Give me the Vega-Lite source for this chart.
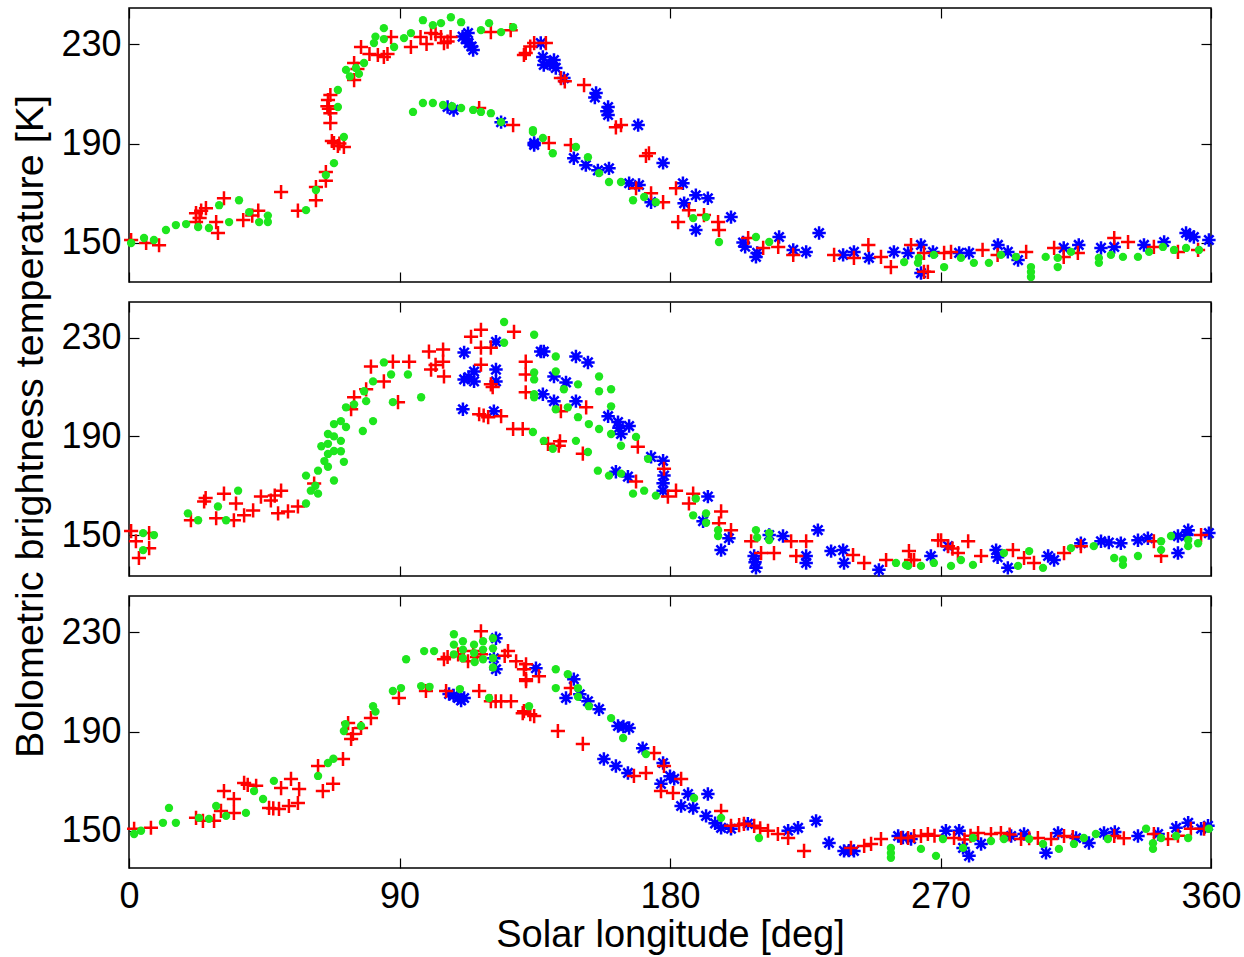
{
 "$schema": "https://vega.github.io/schema/vega-lite/v6.json",
 "background": "white",
 "padding": {"left": 10, "top": 6, "right": 0, "bottom": 2},
 "config": {
  "view": {"stroke": "black", "strokeWidth": 1.5},
  "font": "Liberation Sans",
  "axis": {"labelFont": "Liberation Sans", "labelFontSize": 36, "labelColor": "black", "titleFont": "Liberation Sans", "titleFontSize": 38, "titleFontWeight": "normal", "titleColor": "black", "tickColor": "black", "tickSize": -10, "tickWidth": 1.2, "domain": false, "grid": false, "labelFlush": false, "labelOverlap": false}
 },
 "spacing": 20,
 "bounds": "flush",
 "datasets": {
  "d": [
{"p":1,"s":"r","x":0.7,"y":151.2},{"p":1,"s":"r","x":5.7,"y":150},{"p":1,"s":"r","x":10,"y":149.1},{"p":1,"s":"r","x":22.3,"y":162},{"p":1,"s":"r","x":25.6,"y":164},{"p":1,"s":"r","x":22.3,"y":158.4},{"p":1,"s":"r","x":29,"y":158.4},{"p":1,"s":"r","x":29.6,"y":154},{"p":1,"s":"r","x":31.6,"y":168},{"p":1,"s":"r","x":38,"y":159.2},{"p":1,"s":"r","x":43,"y":163},{"p":1,"s":"r","x":41,"y":161},{"p":1,"s":"r","x":50.6,"y":170.5},{"p":1,"s":"r","x":56.2,"y":163},{"p":1,"s":"r","x":62.2,"y":172.5},{"p":1,"s":"r","x":62.2,"y":167.2},{"p":1,"s":"r","x":65.5,"y":178.5},{"p":1,"s":"r","x":65.5,"y":175},{"p":1,"s":"r","x":66.2,"y":207.5},{"p":1,"s":"r","x":67,"y":209.5},{"p":1,"s":"r","x":66,"y":205},{"p":1,"s":"r","x":67,"y":202.2},{"p":1,"s":"r","x":67,"y":198.2},{"p":1,"s":"r","x":68.2,"y":190.2},{"p":1,"s":"r","x":71.5,"y":188.6},{"p":1,"s":"r","x":69.5,"y":189},{"p":1,"s":"r","x":74.9,"y":222.4},{"p":1,"s":"r","x":74.9,"y":215.5},{"p":1,"s":"r","x":77.2,"y":228.8},{"p":1,"s":"r","x":80,"y":226},{"p":1,"s":"r","x":82.8,"y":225.6},{"p":1,"s":"r","x":84.8,"y":224.8},{"p":1,"s":"r","x":87.2,"y":232.8},{"p":1,"s":"r","x":93.8,"y":228.8},{"p":1,"s":"r","x":97,"y":232.8},{"p":1,"s":"r","x":100.5,"y":234.4},{"p":1,"s":"r","x":103.8,"y":232.8},{"p":1,"s":"r","x":104.8,"y":230.4},{"p":1,"s":"r","x":107,"y":232.8},{"p":1,"s":"r","x":120.4,"y":234.8},{"p":1,"s":"r","x":127,"y":235.6},{"p":1,"s":"r","x":116.5,"y":204.3},{"p":1,"s":"r","x":127.8,"y":197.4},{"p":1,"s":"r","x":131.4,"y":225.6},{"p":1,"s":"r","x":134.8,"y":230.4},{"p":1,"s":"r","x":132,"y":226.4},{"p":1,"s":"r","x":138.7,"y":230.4},{"p":1,"s":"r","x":143.7,"y":216.3},{"p":1,"s":"r","x":151.4,"y":213.5},{"p":1,"s":"r","x":163.7,"y":197.4},{"p":1,"s":"r","x":162,"y":196.5},{"p":1,"s":"r","x":173,"y":186.1},{"p":1,"s":"r","x":147,"y":189.4},{"p":1,"s":"r","x":139.7,"y":190.2},{"p":1,"s":"r","x":168.7,"y":172},{"p":1,"s":"r","x":173.7,"y":170},{"p":1,"s":"r","x":177.7,"y":166.4},{"p":1,"s":"r","x":182,"y":172},{"p":1,"s":"r","x":182.7,"y":158.4},{"p":1,"s":"r","x":186.3,"y":163.2},{"p":1,"s":"r","x":191.3,"y":161.2},{"p":1,"s":"r","x":196,"y":158.4},{"p":1,"s":"r","x":196.3,"y":155.2},{"p":1,"s":"r","x":206,"y":152},{"p":1,"s":"r","x":211,"y":148},{"p":1,"s":"r","x":216,"y":148.4},{"p":1,"s":"r","x":221,"y":145.2},{"p":1,"s":"r","x":234.6,"y":145.2},{"p":1,"s":"r","x":241.2,"y":144},{"p":1,"s":"r","x":246,"y":149.2},{"p":1,"s":"r","x":250.2,"y":144.4},{"p":1,"s":"r","x":253.5,"y":140.3},{"p":1,"s":"r","x":260.2,"y":149.2},{"p":1,"s":"r","x":264.5,"y":138.4},{"p":1,"s":"r","x":264.5,"y":146},{"p":1,"s":"r","x":265.8,"y":138.4},{"p":1,"s":"r","x":271.2,"y":146},{"p":1,"s":"r","x":273.5,"y":146.4},{"p":1,"s":"r","x":284,"y":147.2},{"p":1,"s":"r","x":289,"y":145.2},{"p":1,"s":"r","x":298.5,"y":146.4},{"p":1,"s":"r","x":307.8,"y":148},{"p":1,"s":"r","x":311,"y":144.4},{"p":1,"s":"r","x":315.7,"y":146},{"p":1,"s":"r","x":327.8,"y":152},{"p":1,"s":"r","x":332.4,"y":150.4},{"p":1,"s":"r","x":341,"y":148.4},{"p":1,"s":"r","x":349,"y":146.4},{"p":1,"s":"r","x":355.7,"y":147.2},
{"p":1,"s":"r","x":23.5,"y":160},{"p":1,"s":"r","x":24,"y":163},{"p":1,"s":"r","x":66.5,"y":204},{"p":1,"s":"r","x":67.5,"y":191},{"p":1,"s":"r","x":70,"y":190},{"p":1,"s":"r","x":76,"y":220},{"p":1,"s":"r","x":86,"y":226},{"p":1,"s":"r","x":99,"y":230},{"p":1,"s":"r","x":102,"y":234},{"p":1,"s":"r","x":106,"y":231},{"p":1,"s":"r","x":133.5,"y":229},{"p":1,"s":"r","x":145,"y":215},{"p":1,"s":"r","x":172,"y":185},
{"p":1,"s":"b","x":112.8,"y":234.4},{"p":1,"s":"b","x":113,"y":230.4},{"p":1,"s":"b","x":114.5,"y":227.6},{"p":1,"s":"b","x":111,"y":233},{"p":1,"s":"b","x":106,"y":204.7},{"p":1,"s":"b","x":108,"y":203.5},{"p":1,"s":"b","x":123.8,"y":198.6},{"p":1,"s":"b","x":134.8,"y":190.2},{"p":1,"s":"b","x":137,"y":230.4},{"p":1,"s":"b","x":137.7,"y":224.8},{"p":1,"s":"b","x":138,"y":221.6},{"p":1,"s":"b","x":141.4,"y":223.6},{"p":1,"s":"b","x":142,"y":220.4},{"p":1,"s":"b","x":144.7,"y":216.3},{"p":1,"s":"b","x":155.4,"y":210.3},{"p":1,"s":"b","x":159.4,"y":204.7},{"p":1,"s":"b","x":159.4,"y":201.5},{"p":1,"s":"b","x":169.4,"y":197.4},{"p":1,"s":"b","x":177.7,"y":182.2},{"p":1,"s":"b","x":134.8,"y":189.4},{"p":1,"s":"b","x":148,"y":184.1},{"p":1,"s":"b","x":152,"y":181.3},{"p":1,"s":"b","x":156,"y":179.2},{"p":1,"s":"b","x":159.7,"y":180},{"p":1,"s":"b","x":166.4,"y":174},{"p":1,"s":"b","x":169.7,"y":173.3},{"p":1,"s":"b","x":173.7,"y":166.4},{"p":1,"s":"b","x":184.3,"y":174},{"p":1,"s":"b","x":188.6,"y":169.2},{"p":1,"s":"b","x":192.6,"y":168},{"p":1,"s":"b","x":184.7,"y":166},{"p":1,"s":"b","x":188.6,"y":155.2},{"p":1,"s":"b","x":200.3,"y":160.4},{"p":1,"s":"b","x":204.3,"y":150.2},{"p":1,"s":"b","x":208.6,"y":144.4},{"p":1,"s":"b","x":216.3,"y":152.4},{"p":1,"s":"b","x":221,"y":147.2},{"p":1,"s":"b","x":225.3,"y":146.4},{"p":1,"s":"b","x":229.6,"y":154},{"p":1,"s":"b","x":237.6,"y":145.2},{"p":1,"s":"b","x":241.2,"y":146.4},{"p":1,"s":"b","x":246.2,"y":144},{"p":1,"s":"b","x":254.5,"y":146.4},{"p":1,"s":"b","x":259.2,"y":146},{"p":1,"s":"b","x":263.5,"y":137.9},{"p":1,"s":"b","x":263.5,"y":149.2},{"p":1,"s":"b","x":267.5,"y":146.4},{"p":1,"s":"b","x":276.2,"y":146},{"p":1,"s":"b","x":279.5,"y":146},{"p":1,"s":"b","x":289.1,"y":149.2},{"p":1,"s":"b","x":292.4,"y":146.4},{"p":1,"s":"b","x":295.8,"y":143.1},{"p":1,"s":"b","x":311,"y":148},{"p":1,"s":"b","x":316,"y":149.2},{"p":1,"s":"b","x":323.4,"y":148},{"p":1,"s":"b","x":327.8,"y":148.4},{"p":1,"s":"b","x":337.7,"y":149.2},{"p":1,"s":"b","x":344.4,"y":150.4},{"p":1,"s":"b","x":351.7,"y":154},{"p":1,"s":"b","x":354.3,"y":152.4},{"p":1,"s":"b","x":359.3,"y":151.2},
{"p":1,"s":"b","x":112,"y":232},{"p":1,"s":"b","x":114,"y":229},{"p":1,"s":"b","x":140,"y":222},{"p":1,"s":"b","x":155,"y":208.5},{"p":1,"s":"b","x":159,"y":203},{"p":1,"s":"b","x":205,"y":148.5},{"p":1,"s":"b","x":209,"y":146},{"p":1,"s":"b","x":353,"y":153},
{"p":1,"s":"g","x":0.7,"y":150},{"p":1,"s":"g","x":5,"y":152},{"p":1,"s":"g","x":8.3,"y":151.2},{"p":1,"s":"g","x":12.3,"y":155.2},{"p":1,"s":"g","x":15.6,"y":157.2},{"p":1,"s":"g","x":19,"y":157.6},{"p":1,"s":"g","x":23,"y":156.4},{"p":1,"s":"g","x":26.6,"y":156},{"p":1,"s":"g","x":30,"y":165.2},{"p":1,"s":"g","x":33.3,"y":158.4},{"p":1,"s":"g","x":36.6,"y":167.2},{"p":1,"s":"g","x":40,"y":162.4},{"p":1,"s":"g","x":43.3,"y":158.4},{"p":1,"s":"g","x":46.2,"y":158.4},{"p":1,"s":"g","x":46.2,"y":161},{"p":1,"s":"g","x":58.9,"y":163.2},{"p":1,"s":"g","x":62.2,"y":171.3},{"p":1,"s":"g","x":65.5,"y":177.3},{"p":1,"s":"g","x":68.2,"y":182.1},{"p":1,"s":"g","x":69.5,"y":211.5},{"p":1,"s":"g","x":69.5,"y":204.7},{"p":1,"s":"g","x":71.5,"y":192.6},{"p":1,"s":"g","x":72.2,"y":219.6},{"p":1,"s":"g","x":75.5,"y":220.4},{"p":1,"s":"g","x":78.2,"y":222.4},{"p":1,"s":"g","x":81.5,"y":230.4},{"p":1,"s":"g","x":84.8,"y":236.4},{"p":1,"s":"g","x":84.8,"y":232},{"p":1,"s":"g","x":88.2,"y":228.8},{"p":1,"s":"g","x":91.5,"y":232.4},{"p":1,"s":"g","x":93.8,"y":234.4},{"p":1,"s":"g","x":97.8,"y":239.6},{"p":1,"s":"g","x":101.1,"y":237.6},{"p":1,"s":"g","x":103.8,"y":238.4},{"p":1,"s":"g","x":107.1,"y":240.8},{"p":1,"s":"g","x":110.5,"y":238.8},{"p":1,"s":"g","x":117.1,"y":235.6},{"p":1,"s":"g","x":119.8,"y":238.4},{"p":1,"s":"g","x":123.8,"y":234.8},{"p":1,"s":"g","x":127.8,"y":236.8},{"p":1,"s":"g","x":94.5,"y":202.7},{"p":1,"s":"g","x":97.8,"y":206.3},{"p":1,"s":"g","x":101.1,"y":206.3},{"p":1,"s":"g","x":104.5,"y":205.5},{"p":1,"s":"g","x":107.5,"y":205},{"p":1,"s":"g","x":110.5,"y":204.3},{"p":1,"s":"g","x":114.5,"y":203.5},{"p":1,"s":"g","x":117.1,"y":202.7},{"p":1,"s":"g","x":120.4,"y":202.2},{"p":1,"s":"g","x":123.8,"y":198.6},{"p":1,"s":"g","x":134.4,"y":195.4},{"p":1,"s":"g","x":134.4,"y":194.6},{"p":1,"s":"g","x":137.7,"y":192.2},{"p":1,"s":"g","x":141,"y":186.1},{"p":1,"s":"g","x":148.7,"y":188.6},{"p":1,"s":"g","x":152.7,"y":184.5},{"p":1,"s":"g","x":156.4,"y":178.1},{"p":1,"s":"g","x":159.7,"y":174.5},{"p":1,"s":"g","x":163.7,"y":174.5},{"p":1,"s":"g","x":167.7,"y":167.2},{"p":1,"s":"g","x":171.4,"y":168.5},{"p":1,"s":"g","x":175.3,"y":166.4},{"p":1,"s":"g","x":187.7,"y":160},{"p":1,"s":"g","x":192,"y":160.4},{"p":1,"s":"g","x":196.3,"y":150.4},{"p":1,"s":"g","x":208.6,"y":152.4},{"p":1,"s":"g","x":213,"y":150.4},{"p":1,"s":"g","x":257.9,"y":142.3},{"p":1,"s":"g","x":262.8,"y":144},{"p":1,"s":"g","x":267.8,"y":145.2},{"p":1,"s":"g","x":262.5,"y":142},{"p":1,"s":"g","x":271.2,"y":140.3},{"p":1,"s":"g","x":276.8,"y":144},{"p":1,"s":"g","x":281.1,"y":142},{"p":1,"s":"g","x":286.1,"y":142},{"p":1,"s":"g","x":290.1,"y":145.2},{"p":1,"s":"g","x":295.1,"y":144.4},{"p":1,"s":"g","x":300.1,"y":140.3},{"p":1,"s":"g","x":300.1,"y":136.3},{"p":1,"s":"g","x":305,"y":144.4},{"p":1,"s":"g","x":309,"y":144},{"p":1,"s":"g","x":309,"y":140.3},{"p":1,"s":"g","x":313.4,"y":146.4},{"p":1,"s":"g","x":322.7,"y":144},{"p":1,"s":"g","x":326.7,"y":145.2},{"p":1,"s":"g","x":330.7,"y":144.4},{"p":1,"s":"g","x":335.7,"y":144.4},{"p":1,"s":"g","x":339.4,"y":146.4},{"p":1,"s":"g","x":344,"y":148.4},{"p":1,"s":"g","x":347.7,"y":147.2},{"p":1,"s":"g","x":351.7,"y":148},{"p":1,"s":"g","x":356,"y":147.2},
{"p":1,"s":"g","x":73.5,"y":217},{"p":1,"s":"g","x":76.5,"y":218},{"p":1,"s":"g","x":82,"y":233},{"p":1,"s":"g","x":300.1,"y":138.3},{"p":1,"s":"g","x":322.7,"y":142},
{"p":2,"s":"r","x":0.7,"y":151.6},{"p":2,"s":"r","x":2.3,"y":147.5},{"p":2,"s":"r","x":3.3,"y":140.7},{"p":2,"s":"r","x":6.7,"y":144.7},{"p":2,"s":"r","x":6.7,"y":150.8},{"p":2,"s":"r","x":20.6,"y":156},{"p":2,"s":"r","x":25,"y":163.6},{"p":2,"s":"r","x":29,"y":156.8},{"p":2,"s":"r","x":31.6,"y":166.8},{"p":2,"s":"r","x":34.9,"y":156},{"p":2,"s":"r","x":35.6,"y":162.8},{"p":2,"s":"r","x":38.3,"y":158},{"p":2,"s":"r","x":41.3,"y":160},{"p":2,"s":"r","x":43.9,"y":165.6},{"p":2,"s":"r","x":47.2,"y":164},{"p":2,"s":"r","x":50.6,"y":168},{"p":2,"s":"r","x":49.6,"y":158.8},{"p":2,"s":"r","x":52.9,"y":159.6},{"p":2,"s":"r","x":56.2,"y":161.6},{"p":2,"s":"r","x":61.6,"y":170.9},{"p":2,"s":"r","x":73.9,"y":201},{"p":2,"s":"r","x":74.9,"y":205.9},{"p":2,"s":"r","x":78.9,"y":209.1},{"p":2,"s":"r","x":80.5,"y":218.3},{"p":2,"s":"r","x":84.8,"y":212.3},{"p":2,"s":"r","x":87.8,"y":220.3},{"p":2,"s":"r","x":93.2,"y":220.3},{"p":2,"s":"r","x":89.5,"y":203.9},{"p":2,"s":"r","x":99.8,"y":224.4},{"p":2,"s":"r","x":100.5,"y":217.1},{"p":2,"s":"r","x":104.5,"y":225.2},{"p":2,"s":"r","x":104.5,"y":220.3},{"p":2,"s":"r","x":104.8,"y":214.3},{"p":2,"s":"r","x":113.8,"y":230.4},{"p":2,"s":"r","x":117.1,"y":233.2},{"p":2,"s":"r","x":117.1,"y":226},{"p":2,"s":"r","x":120.4,"y":226},{"p":2,"s":"r","x":117.1,"y":219.1},{"p":2,"s":"r","x":120.4,"y":211.1},{"p":2,"s":"r","x":116.5,"y":199},{"p":2,"s":"r","x":119.5,"y":197.8},{"p":2,"s":"r","x":123.8,"y":198.2},{"p":2,"s":"r","x":127.8,"y":193},{"p":2,"s":"r","x":131,"y":193},{"p":2,"s":"r","x":128.1,"y":232.4},{"p":2,"s":"r","x":132,"y":220.3},{"p":2,"s":"r","x":132,"y":215.1},{"p":2,"s":"r","x":132,"y":207.9},{"p":2,"s":"r","x":139.4,"y":187},{"p":2,"s":"r","x":143,"y":186.2},{"p":2,"s":"r","x":143.7,"y":200.2},{"p":2,"s":"r","x":151,"y":183},{"p":2,"s":"r","x":152.1,"y":201.8},{"p":2,"s":"r","x":169.3,"y":185.8},{"p":2,"s":"r","x":168.7,"y":171.7},{"p":2,"s":"r","x":178,"y":176.9},{"p":2,"s":"r","x":179.3,"y":165.6},{"p":2,"s":"r","x":182,"y":168},{"p":2,"s":"r","x":186.3,"y":162.8},{"p":2,"s":"r","x":187.7,"y":166.8},{"p":2,"s":"r","x":197,"y":159.6},{"p":2,"s":"r","x":196.3,"y":154.8},{"p":2,"s":"r","x":200.3,"y":152},{"p":2,"s":"r","x":207,"y":147.5},{"p":2,"s":"r","x":210.3,"y":142.7},{"p":2,"s":"r","x":214.6,"y":142.7},{"p":2,"s":"r","x":220.3,"y":147.5},{"p":2,"s":"r","x":222,"y":141.5},{"p":2,"s":"r","x":225.3,"y":147.5},{"p":2,"s":"r","x":240.9,"y":141.9},{"p":2,"s":"r","x":244.6,"y":138.7},{"p":2,"s":"r","x":251.9,"y":139.9},{"p":2,"s":"r","x":259.5,"y":143.5},{"p":2,"s":"r","x":261.2,"y":139.9},{"p":2,"s":"r","x":269.2,"y":147.9},{"p":2,"s":"r","x":260.2,"y":139.9},{"p":2,"s":"r","x":270.2,"y":147.9},{"p":2,"s":"r","x":272.5,"y":145.5},{"p":2,"s":"r","x":275.8,"y":142.7},{"p":2,"s":"r","x":279.2,"y":147.5},{"p":2,"s":"r","x":283.5,"y":141.5},{"p":2,"s":"r","x":294.1,"y":143.9},{"p":2,"s":"r","x":297.8,"y":140.7},{"p":2,"s":"r","x":301.1,"y":138.7},{"p":2,"s":"r","x":311.1,"y":142.7},{"p":2,"s":"r","x":316.7,"y":145.5},{"p":2,"s":"r","x":341,"y":147.5},{"p":2,"s":"r","x":343.4,"y":141.5},{"p":2,"s":"r","x":356.7,"y":150},
{"p":2,"s":"r","x":25.5,"y":165},{"p":2,"s":"r","x":48.5,"y":166},{"p":2,"s":"r","x":102,"y":219},{"p":2,"s":"r","x":118,"y":198.5},{"p":2,"s":"r","x":121,"y":210},{"p":2,"s":"r","x":143.4,"y":188},{"p":2,"s":"r","x":274,"y":144.5},
{"p":2,"s":"b","x":111.5,"y":224},{"p":2,"s":"b","x":114.8,"y":216.3},{"p":2,"s":"b","x":111.5,"y":213.1},{"p":2,"s":"b","x":114.8,"y":212.3},{"p":2,"s":"b","x":122.1,"y":228.4},{"p":2,"s":"b","x":122.1,"y":217.1},{"p":2,"s":"b","x":122.1,"y":212.3},{"p":2,"s":"b","x":111.1,"y":201},{"p":2,"s":"b","x":121.4,"y":200.2},{"p":2,"s":"b","x":137,"y":224.4},{"p":2,"s":"b","x":138,"y":224.4},{"p":2,"s":"b","x":141.4,"y":214.3},{"p":2,"s":"b","x":137.7,"y":207.1},{"p":2,"s":"b","x":141.4,"y":204.3},{"p":2,"s":"b","x":148.7,"y":222.4},{"p":2,"s":"b","x":152.7,"y":220},{"p":2,"s":"b","x":145.4,"y":211.9},{"p":2,"s":"b","x":148.7,"y":204.3},{"p":2,"s":"b","x":159.4,"y":198.2},{"p":2,"s":"b","x":162.7,"y":195.8},{"p":2,"s":"b","x":166.4,"y":194.2},{"p":2,"s":"b","x":163.7,"y":191},{"p":2,"s":"b","x":162,"y":175.7},{"p":2,"s":"b","x":166,"y":173.7},{"p":2,"s":"b","x":173.7,"y":181.7},{"p":2,"s":"b","x":177.7,"y":180.1},{"p":2,"s":"b","x":178,"y":174.1},{"p":2,"s":"b","x":177.7,"y":168},{"p":2,"s":"b","x":192.6,"y":165.6},{"p":2,"s":"b","x":191,"y":155.6},{"p":2,"s":"b","x":199.6,"y":148.7},{"p":2,"s":"b","x":197,"y":143.9},{"p":2,"s":"b","x":208.6,"y":136.7},{"p":2,"s":"b","x":208,"y":141.5},{"p":2,"s":"b","x":213,"y":150},{"p":2,"s":"b","x":217.6,"y":149.6},{"p":2,"s":"b","x":229.2,"y":152},{"p":2,"s":"b","x":225.3,"y":138.7},{"p":2,"s":"b","x":233.6,"y":143.5},{"p":2,"s":"b","x":237.6,"y":143.9},{"p":2,"s":"b","x":237.9,"y":138.7},{"p":2,"s":"b","x":249.5,"y":135.9},{"p":2,"s":"b","x":266.8,"y":141.5},{"p":2,"s":"b","x":272.5,"y":145.5},{"p":2,"s":"b","x":288.5,"y":143.9},{"p":2,"s":"b","x":292.4,"y":136.7},{"p":2,"s":"b","x":305.8,"y":141.5},{"p":2,"s":"b","x":307.8,"y":139.9},{"p":2,"s":"b","x":316.7,"y":146.7},{"p":2,"s":"b","x":323.4,"y":147.5},{"p":2,"s":"b","x":330,"y":146.7},{"p":2,"s":"b","x":335.7,"y":147.9},{"p":2,"s":"b","x":339,"y":148.7},{"p":2,"s":"b","x":349,"y":149.6},{"p":2,"s":"b","x":352.4,"y":152},{"p":2,"s":"b","x":349,"y":142.7},{"p":2,"s":"b","x":359.3,"y":150.8},
{"p":2,"s":"b","x":113,"y":214},{"p":2,"s":"b","x":163,"y":193.5},{"p":2,"s":"b","x":177.7,"y":171},{"p":2,"s":"b","x":208.3,"y":139},{"p":2,"s":"b","x":225.3,"y":141.5},{"p":2,"s":"b","x":289,"y":141},{"p":2,"s":"b","x":326,"y":147},{"p":2,"s":"b","x":352,"y":150},
{"p":2,"s":"g","x":4.7,"y":150.8},{"p":2,"s":"g","x":4.7,"y":143.9},{"p":2,"s":"g","x":8.3,"y":150},{"p":2,"s":"g","x":19.6,"y":158.8},{"p":2,"s":"g","x":23,"y":156},{"p":2,"s":"g","x":29.6,"y":161.6},{"p":2,"s":"g","x":36.3,"y":168},{"p":2,"s":"g","x":32.3,"y":156},{"p":2,"s":"g","x":58.9,"y":174.1},{"p":2,"s":"g","x":58.9,"y":162.8},{"p":2,"s":"g","x":62.9,"y":176.1},{"p":2,"s":"g","x":62.9,"y":166.8},{"p":2,"s":"g","x":62,"y":170},{"p":2,"s":"g","x":60.5,"y":168},{"p":2,"s":"g","x":64,"y":186},{"p":2,"s":"g","x":65,"y":180},{"p":2,"s":"g","x":66.2,"y":191},{"p":2,"s":"g","x":66.2,"y":187},{"p":2,"s":"g","x":66.2,"y":182.9},{"p":2,"s":"g","x":66.2,"y":177.7},{"p":2,"s":"g","x":68.2,"y":195},{"p":2,"s":"g","x":68.2,"y":190},{"p":2,"s":"g","x":68.2,"y":184.1},{"p":2,"s":"g","x":68.2,"y":172.1},{"p":2,"s":"g","x":70.5,"y":196.2},{"p":2,"s":"g","x":70.5,"y":188.2},{"p":2,"s":"g","x":70.5,"y":184},{"p":2,"s":"g","x":72.2,"y":201.8},{"p":2,"s":"g","x":72.2,"y":193.8},{"p":2,"s":"g","x":71.5,"y":179.7},{"p":2,"s":"g","x":74.9,"y":203},{"p":2,"s":"g","x":78.2,"y":208.3},{"p":2,"s":"g","x":78.9,"y":204.3},{"p":2,"s":"g","x":81.2,"y":212.3},{"p":2,"s":"g","x":81.2,"y":196.2},{"p":2,"s":"g","x":77.8,"y":192.2},{"p":2,"s":"g","x":84.8,"y":220},{"p":2,"s":"g","x":87.2,"y":215.1},{"p":2,"s":"g","x":87.8,"y":203.9},{"p":2,"s":"g","x":92.8,"y":215.1},{"p":2,"s":"g","x":97.2,"y":205.9},{"p":2,"s":"g","x":124.8,"y":236.4},{"p":2,"s":"g","x":124.8,"y":228},{"p":2,"s":"g","x":134.8,"y":231.2},{"p":2,"s":"g","x":134.8,"y":215.9},{"p":2,"s":"g","x":134.8,"y":207.1},{"p":2,"s":"g","x":134.4,"y":191.8},{"p":2,"s":"g","x":142,"y":222.4},{"p":2,"s":"g","x":142,"y":216.3},{"p":2,"s":"g","x":134.8,"y":213.1},{"p":2,"s":"g","x":134.8,"y":205.9},{"p":2,"s":"g","x":144.7,"y":209.1},{"p":2,"s":"g","x":149.4,"y":211.1},{"p":2,"s":"g","x":156.4,"y":214.3},{"p":2,"s":"g","x":156.4,"y":208.3},{"p":2,"s":"g","x":160.4,"y":209.1},{"p":2,"s":"g","x":160.4,"y":202.2},{"p":2,"s":"g","x":142,"y":201},{"p":2,"s":"g","x":146,"y":201.8},{"p":2,"s":"g","x":149.4,"y":197.8},{"p":2,"s":"g","x":153,"y":195},{"p":2,"s":"g","x":156.4,"y":193},{"p":2,"s":"g","x":160.4,"y":191},{"p":2,"s":"g","x":163.7,"y":186.2},{"p":2,"s":"g","x":168.7,"y":189.8},{"p":2,"s":"g","x":172.7,"y":180.9},{"p":2,"s":"g","x":138,"y":188.2},{"p":2,"s":"g","x":141,"y":185},{"p":2,"s":"g","x":148.7,"y":188.2},{"p":2,"s":"g","x":152.7,"y":183.7},{"p":2,"s":"g","x":156,"y":176.1},{"p":2,"s":"g","x":159.7,"y":174.1},{"p":2,"s":"g","x":163.7,"y":174.9},{"p":2,"s":"g","x":167.7,"y":166.8},{"p":2,"s":"g","x":171.4,"y":168},{"p":2,"s":"g","x":175.3,"y":166},{"p":2,"s":"g","x":187.7,"y":158},{"p":2,"s":"g","x":188.6,"y":164.8},{"p":2,"s":"g","x":192,"y":158.8},{"p":2,"s":"g","x":196,"y":149.6},{"p":2,"s":"g","x":208.6,"y":152},{"p":2,"s":"g","x":213,"y":150.8},{"p":2,"s":"g","x":255.2,"y":138.7},{"p":2,"s":"g","x":259.2,"y":137.5},{"p":2,"s":"g","x":263.5,"y":137.5},{"p":2,"s":"g","x":258.5,"y":137.9},{"p":2,"s":"g","x":267.8,"y":138.7},{"p":2,"s":"g","x":273.5,"y":137.5},{"p":2,"s":"g","x":276.8,"y":139.9},{"p":2,"s":"g","x":280.8,"y":137.9},{"p":2,"s":"g","x":291.1,"y":142.7},{"p":2,"s":"g","x":295.8,"y":137.5},{"p":2,"s":"g","x":299.5,"y":143.5},{"p":2,"s":"g","x":304.1,"y":136.7},{"p":2,"s":"g","x":313.4,"y":144.7},{"p":2,"s":"g","x":321,"y":145.5},{"p":2,"s":"g","x":327.8,"y":140.7},{"p":2,"s":"g","x":330.7,"y":137.9},{"p":2,"s":"g","x":335.7,"y":141.5},{"p":2,"s":"g","x":343.4,"y":147.5},{"p":2,"s":"g","x":346.7,"y":149.6},{"p":2,"s":"g","x":352.4,"y":145.5},{"p":2,"s":"g","x":355.7,"y":146.7},
{"p":2,"s":"g","x":192,"y":155},{"p":2,"s":"g","x":196,"y":152},{"p":2,"s":"g","x":209,"y":149},{"p":2,"s":"g","x":213,"y":148},{"p":2,"s":"g","x":330.7,"y":140},{"p":2,"s":"g","x":343.4,"y":144},{"p":2,"s":"g","x":352.4,"y":148},
{"p":3,"s":"r","x":1.7,"y":150.8},{"p":3,"s":"r","x":7.3,"y":151.2},{"p":3,"s":"r","x":22.3,"y":155.2},{"p":3,"s":"r","x":24.6,"y":154},{"p":3,"s":"r","x":28.3,"y":154},{"p":3,"s":"r","x":31.6,"y":166},{"p":3,"s":"r","x":34.9,"y":162.8},{"p":3,"s":"r","x":34.9,"y":157.2},{"p":3,"s":"r","x":30.6,"y":158},{"p":3,"s":"r","x":38.3,"y":169.3},{"p":3,"s":"r","x":42.3,"y":168.1},{"p":3,"s":"r","x":46.6,"y":159.2},{"p":3,"s":"r","x":49.9,"y":158.8},{"p":3,"s":"r","x":53.2,"y":160},{"p":3,"s":"r","x":50.6,"y":167.2},{"p":3,"s":"r","x":53.9,"y":170.9},{"p":3,"s":"r","x":56.6,"y":166.8},{"p":3,"s":"r","x":56.2,"y":161.2},{"p":3,"s":"r","x":62.9,"y":176.1},{"p":3,"s":"r","x":64.5,"y":166},{"p":3,"s":"r","x":67.9,"y":168.9},{"p":3,"s":"r","x":71.2,"y":178.9},{"p":3,"s":"r","x":73.9,"y":187},{"p":3,"s":"r","x":72.9,"y":193.4},{"p":3,"s":"r","x":77.2,"y":191.4},{"p":3,"s":"r","x":80.5,"y":195.4},{"p":3,"s":"r","x":89.8,"y":203.5},{"p":3,"s":"r","x":98.8,"y":206.3},{"p":3,"s":"r","x":104.8,"y":219.1},{"p":3,"s":"r","x":105.5,"y":206.3},{"p":3,"s":"r","x":109.5,"y":221.1},{"p":3,"s":"r","x":112.8,"y":218.3},{"p":3,"s":"r","x":114.5,"y":222.4},{"p":3,"s":"r","x":117.1,"y":230.4},{"p":3,"s":"r","x":117.1,"y":221.1},{"p":3,"s":"r","x":116.5,"y":206.3},{"p":3,"s":"r","x":120.4,"y":202.2},{"p":3,"s":"r","x":123.8,"y":202.2},{"p":3,"s":"r","x":126.1,"y":222.4},{"p":3,"s":"r","x":127.1,"y":202.2},{"p":3,"s":"r","x":128.8,"y":218.3},{"p":3,"s":"r","x":131.4,"y":215.1},{"p":3,"s":"r","x":132.1,"y":210.3},{"p":3,"s":"r","x":131,"y":197.4},{"p":3,"s":"r","x":134.8,"y":196.2},{"p":3,"s":"r","x":132.1,"y":217.1},{"p":3,"s":"r","x":132.1,"y":211.1},{"p":3,"s":"r","x":136.4,"y":212.3},{"p":3,"s":"r","x":131.4,"y":198.2},{"p":3,"s":"r","x":142.7,"y":190.2},{"p":3,"s":"r","x":151,"y":185},{"p":3,"s":"r","x":147,"y":207.5},{"p":3,"s":"r","x":168,"y":172.1},{"p":3,"s":"r","x":172,"y":173.3},{"p":3,"s":"r","x":174.7,"y":181.3},{"p":3,"s":"r","x":178,"y":176.1},{"p":3,"s":"r","x":177,"y":166},{"p":3,"s":"r","x":181,"y":165.2},{"p":3,"s":"r","x":183.7,"y":170.9},{"p":3,"s":"r","x":197,"y":158},{"p":3,"s":"r","x":200.3,"y":152},{"p":3,"s":"r","x":204.6,"y":152.8},{"p":3,"s":"r","x":208,"y":152},{"p":3,"s":"r","x":212.6,"y":150},{"p":3,"s":"r","x":215.9,"y":148.7},{"p":3,"s":"r","x":219.3,"y":147.1},{"p":3,"s":"r","x":224.6,"y":141.9},{"p":3,"s":"r","x":240.2,"y":143.1},{"p":3,"s":"r","x":244.6,"y":143.9},{"p":3,"s":"r","x":246.9,"y":144.7},{"p":3,"s":"r","x":250.2,"y":146.7},{"p":3,"s":"r","x":256.9,"y":147.1},{"p":3,"s":"r","x":261.2,"y":147.9},{"p":3,"s":"r","x":265.8,"y":148.7},{"p":3,"s":"r","x":259.2,"y":147.1},{"p":3,"s":"r","x":263.5,"y":147.9},{"p":3,"s":"r","x":274.5,"y":147.1},{"p":3,"s":"r","x":278,"y":146.5},{"p":3,"s":"r","x":282.5,"y":149.1},{"p":3,"s":"r","x":286.8,"y":148.7},{"p":3,"s":"r","x":290.1,"y":149.1},{"p":3,"s":"r","x":296.8,"y":146.7},{"p":3,"s":"r","x":302.4,"y":147.1},{"p":3,"s":"r","x":306.8,"y":146.7},{"p":3,"s":"r","x":311.1,"y":147.9},{"p":3,"s":"r","x":327.8,"y":147.9},{"p":3,"s":"r","x":331,"y":147},{"p":3,"s":"r","x":341,"y":148.7},{"p":3,"s":"r","x":345.7,"y":146.7},{"p":3,"s":"r","x":353.3,"y":150.8},{"p":3,"s":"r","x":357.7,"y":150.8},
{"p":3,"s":"r","x":39.5,"y":168.5},{"p":3,"s":"r","x":48,"y":159},{"p":3,"s":"r","x":74.5,"y":189},{"p":3,"s":"r","x":106,"y":220},{"p":3,"s":"r","x":115.8,"y":220},{"p":3,"s":"r","x":125,"y":220.5},{"p":3,"s":"r","x":122,"y":202.2},{"p":3,"s":"r","x":133.5,"y":197},{"p":3,"s":"r","x":203,"y":152.3},{"p":3,"s":"r","x":210,"y":151},{"p":3,"s":"r","x":268,"y":148},{"p":3,"s":"r","x":280,"y":148},{"p":3,"s":"r","x":293,"y":148.5},{"p":3,"s":"r","x":299.5,"y":147},{"p":3,"s":"r","x":314,"y":147.5},{"p":3,"s":"r","x":349,"y":148},
{"p":3,"s":"b","x":106.5,"y":205.1},{"p":3,"s":"b","x":109.5,"y":203.5},{"p":3,"s":"b","x":111.5,"y":203.5},{"p":3,"s":"b","x":121.4,"y":219.5},{"p":3,"s":"b","x":122.1,"y":215.1},{"p":3,"s":"b","x":122.1,"y":227.6},{"p":3,"s":"b","x":135.4,"y":215.5},{"p":3,"s":"b","x":145.4,"y":203.5},{"p":3,"s":"b","x":148,"y":211.1},{"p":3,"s":"b","x":152.7,"y":202.2},{"p":3,"s":"b","x":156.4,"y":199},{"p":3,"s":"b","x":162.7,"y":192.2},{"p":3,"s":"b","x":166.4,"y":191.4},{"p":3,"s":"b","x":170.9,"y":183.3},{"p":3,"s":"b","x":177.7,"y":177.3},{"p":3,"s":"b","x":181.4,"y":170.9},{"p":3,"s":"b","x":158,"y":178.9},{"p":3,"s":"b","x":162,"y":176.1},{"p":3,"s":"b","x":166,"y":173.3},{"p":3,"s":"b","x":177,"y":168.9},{"p":3,"s":"b","x":183.7,"y":160},{"p":3,"s":"b","x":186,"y":164.8},{"p":3,"s":"b","x":187.7,"y":159.2},{"p":3,"s":"b","x":192.6,"y":164.8},{"p":3,"s":"b","x":192,"y":156},{"p":3,"s":"b","x":197,"y":151.2},{"p":3,"s":"b","x":200.3,"y":150.8},{"p":3,"s":"b","x":205.9,"y":152.8},{"p":3,"s":"b","x":219.3,"y":150},{"p":3,"s":"b","x":222.6,"y":151.2},{"p":3,"s":"b","x":228.6,"y":154},{"p":3,"s":"b","x":232.9,"y":145.1},{"p":3,"s":"b","x":237.9,"y":141.9},{"p":3,"s":"b","x":241.2,"y":141.9},{"p":3,"s":"b","x":255.9,"y":147.9},{"p":3,"s":"b","x":260.2,"y":146.7},{"p":3,"s":"b","x":271.8,"y":150},{"p":3,"s":"b","x":276.2,"y":150},{"p":3,"s":"b","x":277.5,"y":143.1},{"p":3,"s":"b","x":279.5,"y":139.9},{"p":3,"s":"b","x":283.5,"y":144.7},{"p":3,"s":"b","x":293.5,"y":147.9},{"p":3,"s":"b","x":297.8,"y":148.7},{"p":3,"s":"b","x":305.1,"y":141.1},{"p":3,"s":"b","x":309.1,"y":149.1},{"p":3,"s":"b","x":315.1,"y":147.1},{"p":3,"s":"b","x":319.4,"y":145.1},{"p":3,"s":"b","x":324.4,"y":149.1},{"p":3,"s":"b","x":328,"y":149.5},{"p":3,"s":"b","x":335.7,"y":147.9},{"p":3,"s":"b","x":342.4,"y":148.7},{"p":3,"s":"b","x":348.4,"y":151.2},{"p":3,"s":"b","x":352.4,"y":153.2},{"p":3,"s":"b","x":356.7,"y":150.8},{"p":3,"s":"b","x":359,"y":152},
{"p":3,"s":"b","x":108,"y":204.5},{"p":3,"s":"b","x":110.5,"y":202.5},{"p":3,"s":"b","x":150,"y":205},{"p":3,"s":"b","x":164.5,"y":192},{"p":3,"s":"b","x":180,"y":172},{"p":3,"s":"b","x":195,"y":153},{"p":3,"s":"b","x":239.5,"y":142},{"p":3,"s":"b","x":257.5,"y":147.3},
{"p":3,"s":"g","x":1.7,"y":148.7},{"p":3,"s":"g","x":4,"y":150},{"p":3,"s":"g","x":11.3,"y":153.2},{"p":3,"s":"g","x":13.3,"y":159.2},{"p":3,"s":"g","x":15.6,"y":153.2},{"p":3,"s":"g","x":23.3,"y":155.2},{"p":3,"s":"g","x":26.6,"y":154.8},{"p":3,"s":"g","x":29,"y":160},{"p":3,"s":"g","x":32.3,"y":156},{"p":3,"s":"g","x":38.9,"y":157.2},{"p":3,"s":"g","x":41.6,"y":166},{"p":3,"s":"g","x":44.6,"y":162.8},{"p":3,"s":"g","x":48.2,"y":170.1},{"p":3,"s":"g","x":62.9,"y":172.1},{"p":3,"s":"g","x":66.2,"y":177.3},{"p":3,"s":"g","x":71.5,"y":190.2},{"p":3,"s":"g","x":72,"y":193},{"p":3,"s":"g","x":77.2,"y":192.2},{"p":3,"s":"g","x":81.2,"y":200.2},{"p":3,"s":"g","x":87.8,"y":206.3},{"p":3,"s":"g","x":90.5,"y":207.5},{"p":3,"s":"g","x":92.2,"y":219.1},{"p":3,"s":"g","x":97.2,"y":208.3},{"p":3,"s":"g","x":100,"y":208},{"p":3,"s":"g","x":98.2,"y":222.4},{"p":3,"s":"g","x":101.5,"y":222.4},{"p":3,"s":"g","x":108.1,"y":229.2},{"p":3,"s":"g","x":108.1,"y":225},{"p":3,"s":"g","x":108.1,"y":221.1},{"p":3,"s":"g","x":111.1,"y":226.4},{"p":3,"s":"g","x":111.1,"y":223},{"p":3,"s":"g","x":111.1,"y":219.5},{"p":3,"s":"g","x":110.1,"y":207.1},{"p":3,"s":"g","x":114.8,"y":221.6},{"p":3,"s":"g","x":114.8,"y":225},{"p":3,"s":"g","x":117.8,"y":226.4},{"p":3,"s":"g","x":117.8,"y":223},{"p":3,"s":"g","x":117.8,"y":219.1},{"p":3,"s":"g","x":121.1,"y":227.6},{"p":3,"s":"g","x":121.1,"y":223.5},{"p":3,"s":"g","x":121.1,"y":219.5},{"p":3,"s":"g","x":121.1,"y":215.8},{"p":3,"s":"g","x":119.8,"y":203.5},{"p":3,"s":"g","x":133.1,"y":200.2},{"p":3,"s":"g","x":142,"y":215.1},{"p":3,"s":"g","x":142,"y":207.5},{"p":3,"s":"g","x":146,"y":213.1},{"p":3,"s":"g","x":149.4,"y":207.5},{"p":3,"s":"g","x":149.4,"y":204},{"p":3,"s":"g","x":153,"y":200.2},{"p":3,"s":"g","x":160.4,"y":195.4},{"p":3,"s":"g","x":164.4,"y":187.4},{"p":3,"s":"g","x":172,"y":180.9},{"p":3,"s":"g","x":188,"y":163.2},{"p":3,"s":"g","x":197,"y":155.2},{"p":3,"s":"g","x":209.6,"y":147.1},{"p":3,"s":"g","x":253.5,"y":143.1},{"p":3,"s":"g","x":253.5,"y":139.1},{"p":3,"s":"g","x":263.5,"y":142.7},{"p":3,"s":"g","x":268.5,"y":139.9},{"p":3,"s":"g","x":270.8,"y":146.7},{"p":3,"s":"g","x":277.5,"y":143.1},{"p":3,"s":"g","x":280.8,"y":147.1},{"p":3,"s":"g","x":286.8,"y":145.9},{"p":3,"s":"g","x":291.1,"y":146.7},{"p":3,"s":"g","x":299.5,"y":146.7},{"p":3,"s":"g","x":304.1,"y":144.7},{"p":3,"s":"g","x":309.4,"y":142.7},{"p":3,"s":"g","x":314.4,"y":144.7},{"p":3,"s":"g","x":317.7,"y":147.1},{"p":3,"s":"g","x":321.7,"y":148.7},{"p":3,"s":"g","x":325.7,"y":146.7},{"p":3,"s":"g","x":338.4,"y":150.8},{"p":3,"s":"g","x":340.7,"y":142.7},{"p":3,"s":"g","x":343.4,"y":147.1},{"p":3,"s":"g","x":348.4,"y":147.9},{"p":3,"s":"g","x":352.4,"y":147.1},{"p":3,"s":"g","x":359.3,"y":150.8},
{"p":3,"s":"g","x":68,"y":179},{"p":3,"s":"g","x":82,"y":198},{"p":3,"s":"g","x":340.7,"y":145},{"p":3,"s":"g","x":253.5,"y":141},{"p":3,"s":"g","x":115,"y":218}
  ]
 },
 "data": {"name": "d"},
 "vconcat": [
  {
   "width": 1082, "height": 274,
   "transform": [{"filter": "datum.p == 1"}],
   "layer": [
    {"transform": [{"filter": "datum.s == 'b'"}],
     "mark": {"type": "point", "shape": "M-1,0L1,0M0,-1L0,1M-0.7,-0.7L0.7,0.7M-0.7,0.7L0.7,-0.7", "filled": false, "color": "#0000ff", "strokeWidth": 2.5, "size": 180, "opacity": 1},
     "encoding": {
      "x": {"field": "x", "type": "quantitative", "scale": {"domain": [0, 360], "nice": false, "zero": false}, "axis": {"orient": "bottom", "values": [0, 90, 180, 270, 360], "labels": false, "title": null}},
      "y": {"field": "y", "type": "quantitative", "scale": {"domain": [134.3, 244.5], "nice": false, "zero": false}, "axis": {"orient": "left", "values": [150, 190, 230], "labelPadding": 18, "title": null}}
     }},
    {"transform": [{"filter": "datum.s == 'r'"}],
     "mark": {"type": "point", "shape": "M-1,0L1,0M0,-1L0,1", "filled": false, "color": "#ff0000", "strokeWidth": 2.5, "size": 200, "opacity": 1},
     "encoding": {
      "x": {"field": "x", "type": "quantitative", "axis": {"orient": "top", "values": [0, 90, 180, 270, 360], "labels": false, "title": null}},
      "y": {"field": "y", "type": "quantitative", "axis": {"orient": "right", "values": [150, 190, 230], "labels": false, "title": null}}
     }},
    {"transform": [{"filter": "datum.s == 'g'"}],
     "mark": {"type": "point", "shape": "circle", "filled": true, "color": "#1ee61e", "size": 70, "opacity": 1},
     "encoding": {
      "x": {"field": "x", "type": "quantitative", "axis": null},
      "y": {"field": "y", "type": "quantitative", "axis": null}
     }}
   ],
   "resolve": {"axis": {"x": "independent", "y": "independent"}}
  },
  {
   "width": 1082, "height": 274,
   "transform": [{"filter": "datum.p == 2"}],
   "layer": [
    {"transform": [{"filter": "datum.s == 'b'"}],
     "mark": {"type": "point", "shape": "M-1,0L1,0M0,-1L0,1M-0.7,-0.7L0.7,0.7M-0.7,0.7L0.7,-0.7", "filled": false, "color": "#0000ff", "strokeWidth": 2.5, "size": 180, "opacity": 1},
     "encoding": {
      "x": {"field": "x", "type": "quantitative", "scale": {"domain": [0, 360], "nice": false, "zero": false}, "axis": {"orient": "bottom", "values": [0, 90, 180, 270, 360], "labels": false, "title": null}},
      "y": {"field": "y", "type": "quantitative", "scale": {"domain": [133.4, 244.5], "nice": false, "zero": false}, "axis": {"orient": "left", "values": [150, 190, 230], "labelPadding": 18, "title": "Bolometric brightness temperature [K]", "titleFontSize": 39.5, "titlePadding": 10, "titleY": 124}}
     }},
    {"transform": [{"filter": "datum.s == 'r'"}],
     "mark": {"type": "point", "shape": "M-1,0L1,0M0,-1L0,1", "filled": false, "color": "#ff0000", "strokeWidth": 2.5, "size": 200, "opacity": 1},
     "encoding": {
      "x": {"field": "x", "type": "quantitative", "axis": {"orient": "top", "values": [0, 90, 180, 270, 360], "labels": false, "title": null}},
      "y": {"field": "y", "type": "quantitative", "axis": {"orient": "right", "values": [150, 190, 230], "labels": false, "title": null}}
     }},
    {"transform": [{"filter": "datum.s == 'g'"}],
     "mark": {"type": "point", "shape": "circle", "filled": true, "color": "#1ee61e", "size": 70, "opacity": 1},
     "encoding": {
      "x": {"field": "x", "type": "quantitative", "axis": null},
      "y": {"field": "y", "type": "quantitative", "axis": null}
     }}
   ],
   "resolve": {"axis": {"x": "independent", "y": "independent"}}
  },
  {
   "width": 1082, "height": 272,
   "transform": [{"filter": "datum.p == 3"}],
   "layer": [
    {"transform": [{"filter": "datum.s == 'b'"}],
     "mark": {"type": "point", "shape": "M-1,0L1,0M0,-1L0,1M-0.7,-0.7L0.7,0.7M-0.7,0.7L0.7,-0.7", "filled": false, "color": "#0000ff", "strokeWidth": 2.5, "size": 180, "opacity": 1},
     "encoding": {
      "x": {"field": "x", "type": "quantitative", "scale": {"domain": [0, 360], "nice": false, "zero": false}, "axis": {"orient": "bottom", "values": [0, 90, 180, 270, 360], "labelPadding": 21, "title": "Solar longitude [deg]", "titlePadding": 2}},
      "y": {"field": "y", "type": "quantitative", "scale": {"domain": [135, 244.6], "nice": false, "zero": false}, "axis": {"orient": "left", "values": [150, 190, 230], "labelPadding": 18, "title": null}}
     }},
    {"transform": [{"filter": "datum.s == 'r'"}],
     "mark": {"type": "point", "shape": "M-1,0L1,0M0,-1L0,1", "filled": false, "color": "#ff0000", "strokeWidth": 2.5, "size": 200, "opacity": 1},
     "encoding": {
      "x": {"field": "x", "type": "quantitative", "axis": {"orient": "top", "values": [0, 90, 180, 270, 360], "labels": false, "title": null}},
      "y": {"field": "y", "type": "quantitative", "axis": {"orient": "right", "values": [150, 190, 230], "labels": false, "title": null}}
     }},
    {"transform": [{"filter": "datum.s == 'g'"}],
     "mark": {"type": "point", "shape": "circle", "filled": true, "color": "#1ee61e", "size": 70, "opacity": 1},
     "encoding": {
      "x": {"field": "x", "type": "quantitative", "axis": null},
      "y": {"field": "y", "type": "quantitative", "axis": null}
     }}
   ],
   "resolve": {"axis": {"x": "independent", "y": "independent"}}
  }
 ]
}
